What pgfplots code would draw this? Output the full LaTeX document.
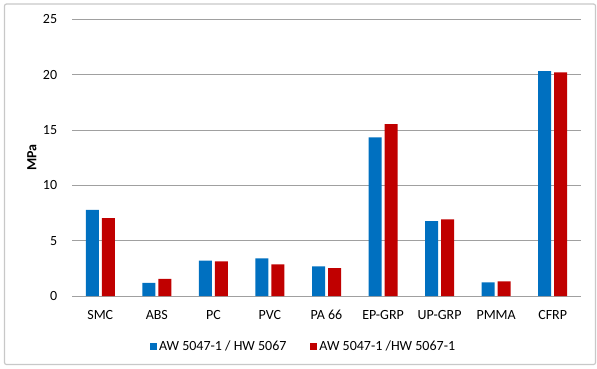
\documentclass[border=0pt]{standalone}
\usepackage{fontspec}
\setmainfont{Carlito}
\usepackage{pgfplots}
\pgfplotsset{compat=1.18}
\definecolor{xblue}{RGB}{0,112,192}
\definecolor{xred}{RGB}{192,0,0}
\definecolor{xgrid}{RGB}{160,160,160}
\definecolor{xborder}{RGB}{200,200,200}
\begin{document}
\fontsize{14pt}{16pt}\selectfont
\begin{tikzpicture}[x=1pt,y=1pt]
\useasboundingbox (0,0) rectangle (597,368);
\draw[xborder, line width=1.2pt, rounded corners=2pt] (4.5,3.5) rectangle (595.5,364);
\begin{axis}[
  at={(72pt,72pt)}, anchor=south west,
  scale only axis, width=509pt, height=276.5pt,
  ybar=3pt, bar width=13pt,
  xmin=-0.5, xmax=8.5, ymin=0, ymax=25,
  xtick=data,
  xticklabels={SMC,ABS,PC,PVC,PA 66,EP-GRP,UP-GRP,PMMA,CFRP},
  ytick={0,5,10,15,20,25},
  ymajorgrids, grid style={xgrid, line width=0.9pt},
  axis line style={draw=none}, tick style={draw=none},
  /pgf/number format/assume math mode=true,
  tick label style={font=\fontsize{14pt}{16pt}\selectfont},
  yticklabel style={xshift=-10pt},
  xticklabel style={yshift=-5pt},
  ylabel={\textbf{MPa}},
  ylabel style={at={(axis description cs:-0.079,0.5)}, anchor=center, font=\fontsize{14pt}{16pt}\selectfont},
  legend columns=2,
  legend style={draw=none, fill=none, at={(rel axis cs:0.455,-0.183)}, anchor=center,
    font=\fontsize{14pt}{16pt}\selectfont, /tikz/every even column/.append style={column sep=22pt}},
  legend image code/.code={\fill[#1] (0pt,-3.5pt) rectangle (7pt,3.5pt);},
]
\addplot[fill=xblue, draw=none] coordinates {(0,7.78) (1,1.18) (2,3.19) (3,3.41) (4,2.68) (5,14.35) (6,6.78) (7,1.24) (8,20.34)};
\addplot[fill=xred, draw=none] coordinates {(0,7.05) (1,1.54) (2,3.13) (3,2.86) (4,2.53) (5,15.55) (6,6.93) (7,1.33) (8,20.22)};
\legend{AW 5047-1 / HW 5067, AW 5047-1 /HW 5067-1}
\end{axis}
\end{tikzpicture}
\end{document}
